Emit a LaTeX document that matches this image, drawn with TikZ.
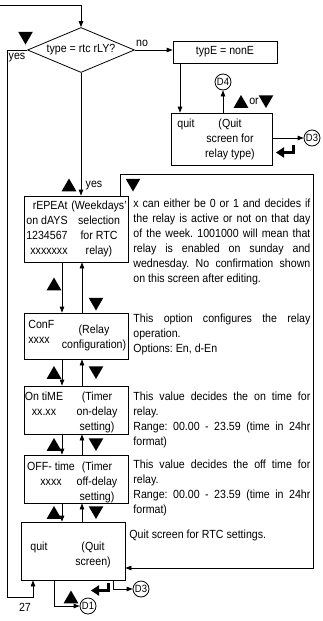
\documentclass[tikz,border=0pt]{standalone}
\usepackage{fontspec}
\setmainfont{Liberation Sans}[FakeStretch=0.9]
\usetikzlibrary{calc,shapes.geometric,arrows.meta}
\tolerance=10000
\frenchspacing
\newcommand{\enterkey}[1]{\draw[line width=3pt,-{Triangle[length=8pt,width=10pt]}] ($(#1)+(8,-6)$) -- ($(#1)+(8,1.5)$) -- ($(#1)+(-9,1.5)$);}

\begin{document}
\begin{tikzpicture}[x=1pt,y=-1pt,line width=0.8pt,
	font=\fontsize{11.8}{15}\selectfont,
	box/.style={draw,inner sep=0pt},
	lbl/.style={inner sep=0pt,align=center},
	note/.style={inner sep=0pt,text width=177pt,align=justify,anchor=north west},
	conn/.style={circle,draw,inner sep=0pt,minimum size=16pt,font=\fontsize{10.5}{10.5}\selectfont},
	keyup/.style={regular polygon,regular polygon sides=3,fill=black,inner sep=0pt,minimum size=17pt},
	keydn/.style={keyup,shape border rotate=180},
	flow/.style={-{Triangle[length=6pt,width=4.5pt]}},
	]

				\useasboundingbox (0,0) rectangle (323,621);

%				relay type question
				\node[box,diamond,aspect=2.3,minimum width=107pt,minimum height=45pt] (rtc) at (81,50) {type = rtc rLY?};
				\node[box,minimum width=104pt,minimum height=22pt] (nonE) at (225,52) {typE = nonE};
				\node[box,minimum width=101pt,minimum height=52pt] (qtype) at (222,139) {};
				\node[lbl,anchor=north west] (qtypeL) at (177,119) {quit};
				\node[lbl,anchor=north] (qtypeR) at (230,119) {(Quit\\screen for\\relay type)};

				\node[conn] (D4) at (223,82) {D4};
				\node[conn] (D3a) at (312,138) {D3};
				\node[keyup] (upA) at (241,103.5) {};
				\node[lbl] (orA) at (254,101) {or};
				\node[keydn] (dnA) at (266,99.5) {};

%				rtc screens
				\node[box,minimum width=104pt,minimum height=66pt] (repeat) at (76,229) {};
				\node[lbl,align=right,anchor=north east] (repeatL) at (68,201) {rEPEAt\\on dAYS\\1234567\\xxxxxxx};
				\node[lbl,anchor=north] (repeatR) at (99,201) {(Weekdays'\\selection\\for RTC\\relay)};

				\node[box,minimum width=104pt,minimum height=46pt] (conf) at (76,336) {};
				\node[lbl,align=left,anchor=north west] (confL) at (28,320) {ConF\\xxxx};
				\node[lbl,anchor=north] (confR) at (94,325) {(Relay\\configuration)};

				\node[box,minimum width=104pt,minimum height=48pt] (ontime) at (76,410) {};
				\node[lbl,anchor=north] (ontimeL) at (44,392) {On tiME\\xx.xx};
				\node[lbl,anchor=north] (ontimeR) at (97,392) {(Timer\\on-delay\\setting)};

				\node[box,minimum width=104pt,minimum height=48pt] (off) at (76,479) {};
				\node[lbl,anchor=north] (offL) at (51,462) {OFF- time\\xxxx};
				\node[lbl,anchor=north] (offR) at (97,462) {(Timer\\off-delay\\setting)};

				\node[box,minimum width=104pt,minimum height=58pt] (quit) at (73,551) {};
				\node[lbl,anchor=north] (quitL) at (39,542) {quit};
				\node[lbl,anchor=north] (quitR) at (93,542) {(Quit\\screen)};

%				notes on the right
				\node[note] (noteRepeat) at (133,199) {x can either be 0 or 1 and decides if\linebreak the relay is active or not on that day\linebreak of the week. 1001000 will mean that\linebreak relay is enabled on sunday and\linebreak wednesday. No confirmation shown\linebreak on this screen after editing.};
				\node[note] (noteConf) at (133,314) {This option configures the relay\linebreak operation.\newline Options: En, d-En};
				\node[note] (noteOn) at (133,392) {This value decides the on time for\linebreak relay.\newline Range: 00.00 - 23.59 (time in 24hr\linebreak format)};
				\node[note] (noteOff) at (133,460) {This value decides the off time for\linebreak relay.\newline Range: 00.00 - 23.59 (time in 24hr\linebreak format)};
				\node[lbl,anchor=north west] (noteQuit) at (129,530) {Quit screen for RTC settings.};

%				small labels and keys
				\node[lbl] (noL) at (142,43) {no};
				\node[lbl] (yesL) at (17,58) {yes};
				\node[lbl] (yesR) at (94,186) {yes};
				\node[lbl] (pageNo) at (25,607) {27};
				\node[keydn] (dnTop) at (25.5,36) {};
				\node[keyup] (upYes) at (69,187) {};
				\node[keydn] (dnLoop) at (133,183) {};
				\node[keyup] (up1) at (54,286) {};
				\node[keydn] (dn1) at (96,302) {};
				\node[keyup] (up2) at (54,374.5) {};
				\node[keydn] (dn2) at (96,370.5) {};
				\node[keyup] (up3) at (54,446.5) {};
				\node[keydn] (dn3) at (96,442.5) {};
				\node[keyup] (up4) at (54,514.5) {};
				\node[keydn] (dn4) at (96,510.5) {};
				\node[keyup] (upQ) at (71,599) {};

				\node[conn] (D1) at (88,606) {D1};
				\node[conn] (D3b) at (141,589) {D3};

				\coordinate (topIn) at (0,5);
				\coordinate (nonEdn) at (180,0);
				\coordinate (loopW) at (7,597);
				\coordinate (loopIn) at (33,597);
				\coordinate (loopNE) at (313,174);
				\coordinate (loopSE) at (313,568);
				\coordinate (loopOut) at (120,0);
				\coordinate (colDn) at (62,0);
				\coordinate (colUp) at (82,0);
				\coordinate (d1Turn) at (54,0);
				\coordinate (d3Turn) at (113,0);
				\coordinate (ent1) at (285,151);
				\coordinate (ent2) at (100,589);

				\draw[flow] (topIn) -| (rtc.north);
				\draw[flow] (rtc.west) -| (loopW) -- (loopIn) -- (loopIn |- quit.south);
				\draw[flow] (repeat.north -| loopOut) |- (loopNE) -- (loopSE) -- (loopSE -| quit.east);
				\draw[flow] (quit.south -| d1Turn) |- (D1);
				\draw[flow] (quit.south -| d3Turn) |- (D3b);

				\path[flow]
				(rtc.east) edge (nonE.west |- rtc.east)
				(rtc.south) edge (rtc.south |- repeat.north)
				(nonE.south -| nonEdn) edge (qtype.north -| nonEdn)
				(qtype.north -| D4) edge (D4)
				(qtype.east |- D3a) edge (D3a)
				(repeat.south -| colDn) edge (conf.north -| colDn)
				(conf.north -| colUp) edge (repeat.south -| colUp)
				(conf.south -| colDn) edge (ontime.north -| colDn)
				(ontime.north -| colUp) edge (conf.south -| colUp)
				(ontime.south -| colDn) edge (off.north -| colDn)
				(off.north -| colUp) edge (ontime.south -| colUp)
				(off.south -| colDn) edge (quit.north -| colDn)
				(quit.north -| colUp) edge (off.south -| colUp);

				\enterkey{ent1}
				\enterkey{ent2}

\end{tikzpicture}
\end{document}
